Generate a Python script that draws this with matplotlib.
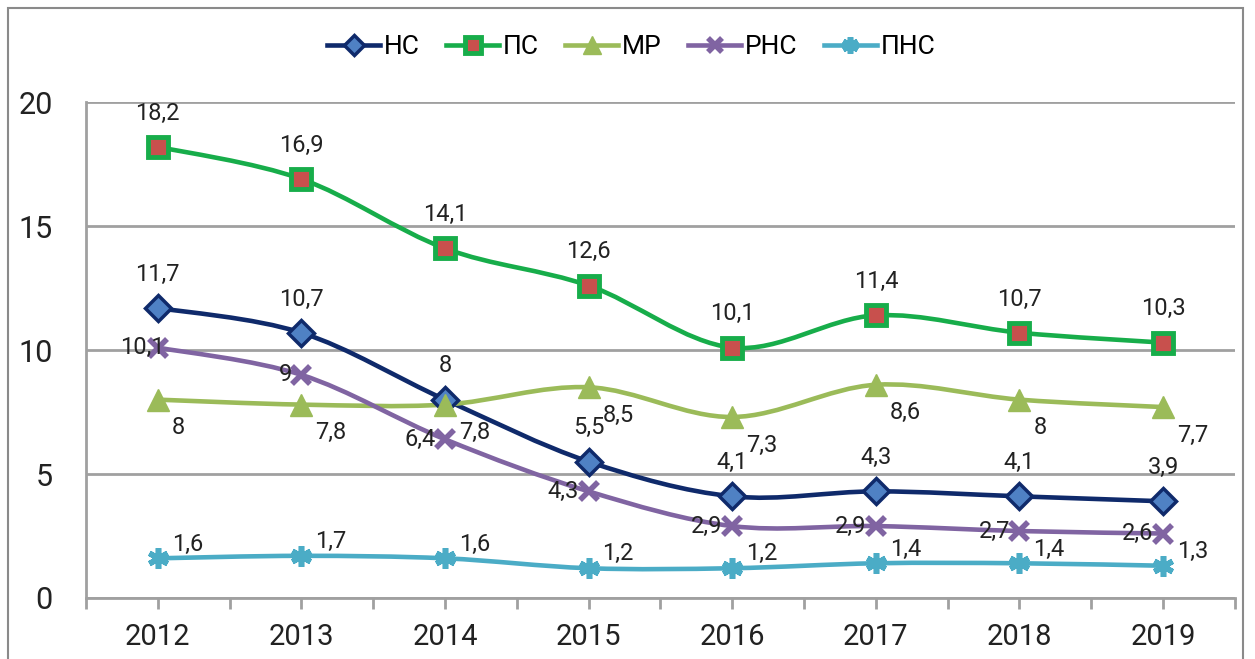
import numpy as np
import matplotlib
matplotlib.use('Agg')
from matplotlib import pyplot as plt
from matplotlib.path import Path
from matplotlib.patches import PathPatch, Rectangle

plt.rcParams['font.family'] = ['Roboto', 'DejaVu Sans']

years = ['2012', '2013', '2014', '2015', '2016', '2017', '2018', '2019']
ns = [11.7, 10.7, 8, 5.5, 4.1, 4.3, 4.1, 3.9]
ps = [18.2, 16.9, 14.1, 12.6, 10.1, 11.4, 10.7, 10.3]
mr = [8, 7.8, 7.8, 8.5, 7.3, 8.6, 8, 7.7]
rns = [10.1, 9, 6.4, 4.3, 2.9, 2.9, 2.7, 2.6]
pns = [1.6, 1.7, 1.6, 1.2, 1.2, 1.4, 1.4, 1.3]


def smooth_path(x, y):
    # Bezier-кривая через точки, как сглаженная линия в Excel
    pts = np.column_stack([x, y]).astype(float)
    verts = [pts[0]]
    codes = [Path.MOVETO]
    n = len(pts)
    for i in range(n - 1):
        p0 = pts[i - 1] if i > 0 else pts[i]
        p1 = pts[i]
        p2 = pts[i + 1]
        p3 = pts[i + 2] if i + 2 < n else pts[i + 1]
        c1 = p1 + (p2 - p0) / 6
        c2 = p2 - (p3 - p1) / 6
        verts += [c1, c2, p2]
        codes += [Path.CURVE4] * 3
    return Path(verts, codes)


fig = plt.figure(figsize=(12.55, 6.59), dpi=100)
ax = fig.add_axes([0.0685, 0.0926, 0.9155, 0.7524])

x = np.arange(len(years))

series = [
    ('НС', ns, '#0f2a6b', dict(marker='D', markersize=13, markerfacecolor='#4f81c4', markeredgecolor='#0f2a6b', markeredgewidth=2.5)),
    ('ПС', ps, '#17ad4a', dict(marker='s', markersize=14, markerfacecolor='#c8504d', markeredgecolor='#17ad4a', markeredgewidth=3.5)),
    ('МР', mr, '#9bbb59', dict(marker='^', markersize=16, markerfacecolor='#9bbb59', markeredgecolor='#9bbb59', markeredgewidth=1)),
    ('РНС', rns, '#8064a2', dict(marker='x', markersize=13, markeredgecolor='#8064a2', markeredgewidth=4)),
    ('ПНС', pns, '#4bacc6', dict(marker=(6, 2, 0), markersize=15, markeredgecolor='#4bacc6', markeredgewidth=4)),
]

handles = []
for name, vals, color, mk in series:
    ax.add_patch(PathPatch(smooth_path(x, vals), facecolor='none', edgecolor=color,
                           lw=3.3, capstyle='round', zorder=3))
    h, = ax.plot(x, vals, linestyle='none', color=color, zorder=4, **mk)
    handles.append((color, mk, name))

# подписи значений
def fmt(v):
    return ('%g' % v).replace('.', ',')

lab_kw = dict(fontsize=17, color='#222222', zorder=6)
for i, v in enumerate(ns):
    ax.annotate(fmt(v), (i, v), xytext=(0, 16), textcoords='offset points', ha='center', va='bottom', **lab_kw)
for i, v in enumerate(ps):
    ax.annotate(fmt(v), (i, v), xytext=(0, 16), textcoords='offset points', ha='center', va='bottom', **lab_kw)
for i, v in enumerate(mr):
    ax.annotate(fmt(v), (i, v), xytext=(10, -12), textcoords='offset points', ha='left', va='top', **lab_kw)
for i, v in enumerate(rns):
    ax.annotate(fmt(v), (i, v), xytext=(-7 if i else 5, 0), textcoords='offset points', ha='right', va='center', **lab_kw)
for i, v in enumerate(pns):
    ax.annotate(fmt(v), (i, v), xytext=(10, 2), textcoords='offset points', ha='left', va='bottom', **lab_kw)

ax.set_xlim(-0.5, len(years) - 0.5)
ax.set_ylim(0, 20)
ax.set_yticks([0, 5, 10, 15, 20])
ax.set_xticks(x)
ax.set_xticklabels(years)
ax.set_xticks(np.arange(-0.5, len(years), 1), minor=True)
ax.tick_params(axis='x', which='both', length=8, width=2, color='#a0a0a0', direction='out',
               labelsize=21, pad=10, labelcolor='#222222')
ax.tick_params(axis='y', length=0, labelsize=22, pad=24, labelcolor='#222222')
ax.grid(axis='y', color='#a0a0a0', lw=2)
ax.set_axisbelow(True)
for s in ['top', 'right']:
    ax.spines[s].set_visible(False)
for s in ['left', 'bottom']:
    ax.spines[s].set_color('#a0a0a0')
    ax.spines[s].set_linewidth(2)

# легенда
leg_handles = []
for color, mk, name in handles:
    lh, = ax.plot([], [], color=color, lw=3.3, **mk)
    lh.set_markersize(mk['markersize'] * 0.8)
    leg_handles.append(lh)
fig.legend(leg_handles, [hh[2] for hh in handles], loc='center', bbox_to_anchor=(0.503, 0.928),
           ncol=5, frameon=False, fontsize=19, handlelength=2.0, handletextpad=0.15, columnspacing=1.0)

# рамка
fig.patches.append(Rectangle((8 / 1255, -0.01), 1235 / 1255, 1 - 8 / 659 + 0.01, transform=fig.transFigure,
                             fill=False, edgecolor='#8a8a8a', lw=1.5))

fig.savefig('out.png', dpi=100)
